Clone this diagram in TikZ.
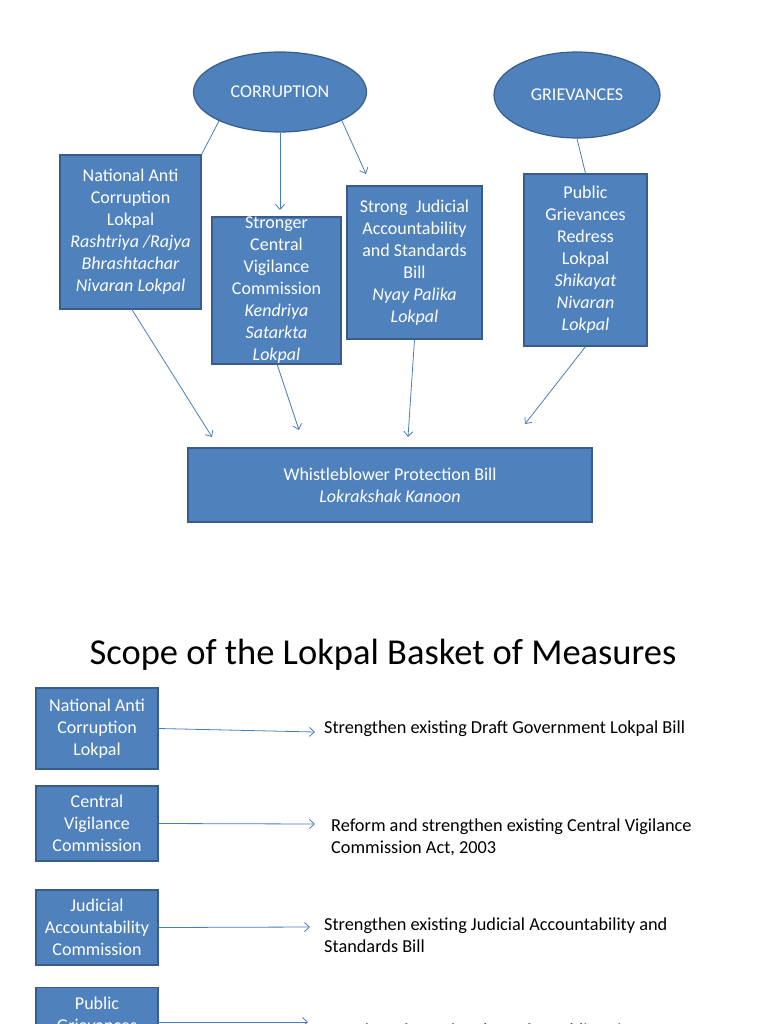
\documentclass[tikz,border=0pt]{standalone}
\usepackage{fontspec}
\setmainfont{Carlito}
\usetikzlibrary{arrows.meta,shapes.geometric}
\definecolor{boxfill}{HTML}{4F81BD}
\definecolor{boxline}{HTML}{385D8A}
\definecolor{linkblue}{HTML}{4A7EBB}
\begin{document}
\begin{tikzpicture}[x=1pt,y=-1pt,
  bx/.style={draw=boxline,line width=1.2pt,fill=boxfill,text=white,align=center,inner sep=0pt,
    font=\fontsize{18}{22}\selectfont},
  ell/.style={ellipse,draw=boxline,line width=1.2pt,fill=boxfill,text=white,inner sep=0pt,
    font=\fontsize{18}{22}\selectfont},
  link/.style={draw=linkblue,line width=0.8pt},
  arr/.style={link,-{Straight Barb[length=5pt,width=9pt]}},
  desc/.style={anchor=west,align=left,inner sep=0pt,font=\fontsize{18.3}{22}\selectfont}]
\useasboundingbox (0,0) rectangle (768,1024);
\clip (0,0) rectangle (768,1024);
% top part
\node[ell,minimum width=173pt,minimum height=80pt] (corr) at (280,92) {CORRUPTION};
\node[ell,minimum width=166pt,minimum height=86pt] (griev) at (577,95) {GRIEVANCES};
\node[bx,minimum width=141pt,minimum height=154pt] (b1) at (130.5,232)
 {National Anti\\Corruption\\Lokpal\\\textit{Rashtriya /Rajya}\\\textit{Bhrashtachar}\\\textit{Nivaran Lokpal}};
\node[bx,minimum width=129pt,minimum height=147pt] (b2) at (276.5,290.5)
 {Stronger\\Central\\Vigilance\\Commission\\\textit{Kendriya}\\\textit{Satarkta}\\\textit{Lokpal}};
\node[bx,minimum width=135pt,minimum height=153pt] (b3) at (414.5,262.5)
 {Strong\ \ Judicial\\Accountability\\and Standards\\Bill\\\textit{Nyay Palika}\\\textit{Lokpal}};
\node[bx,minimum width=123pt,minimum height=172pt] (b4) at (585.5,260)
 {Public\\Grievances\\Redress\\Lokpal\\\textit{Shikayat}\\\textit{Nivaran}\\\textit{Lokpal}};
\node[bx,minimum width=404pt,minimum height=74pt] (wb) at (390,485)
 {Whistleblower Protection Bill\\\textit{Lokrakshak Kanoon}};
\coordinate (c1) at (219,121);
\coordinate (c3) at (342,121);
\coordinate (t2) at (280,210);
\coordinate (t3) at (366,174);
\coordinate (w1) at (212,437);
\coordinate (w2) at (299,430);
\coordinate (w3) at (408,437);
\coordinate (w4) at (525,424);
\draw[link] (c1) -- (b1.north east);
\draw[arr] (corr.south) -- (t2);
\draw[arr] (c3) -- (t3);
\draw[link] (griev.south) -- (b4.north);
\draw[arr] (b1.south) ++(1.5,0) -- (w1);
\draw[arr] (277,364) -- (w2);
\draw[arr] (b3.south) -- (w3);
\draw[arr] (b4.south) -- (w4);
% title
\node[font=\fontsize{36.5}{44}\selectfont,inner sep=0pt] (title) at (383,655) {Scope of the Lokpal Basket of Measures};
% bottom list
\node[bx,minimum width=122pt,minimum height=81pt] (l1) at (97,728.5) {National Anti\\Corruption\\Lokpal};
\node[bx,minimum width=122pt,minimum height=75pt] (l2) at (97,823.5) {Central\\Vigilance\\Commission};
\node[bx,minimum width=122pt,minimum height=75pt] (l3) at (97,927.5) {Judicial\\Accountability\\Commission};
\node[bx,minimum width=122pt,minimum height=75pt,anchor=north] (l4) at (97,987) {Public\\Grievances\\Redress};
\node[desc] (d1) at (324,729) {Strengthen existing Draft Government Lokpal Bill};
\node[desc] (d2) at (331,837) {Reform and strengthen existing Central Vigilance\\Commission Act, 2003};
\node[desc] (d3) at (324,935) {Strengthen existing Judicial Accountability and\\Standards Bill};
\node[desc] (d4) at (325,1030) {Creation of a National Law for Public Grievances};
\coordinate (e1) at (315,732);
\coordinate (e2) at (315,824);
\coordinate (e3) at (310,927);
\coordinate (e4) at (308,1022);
\draw[arr] (l1.east) -- (e1);
\draw[arr] (l2.east) -- (e2);
\draw[arr] (l3.east) -- (e3);
\draw[arr] (158,1022) -- (e4);
\end{tikzpicture}
\end{document}
